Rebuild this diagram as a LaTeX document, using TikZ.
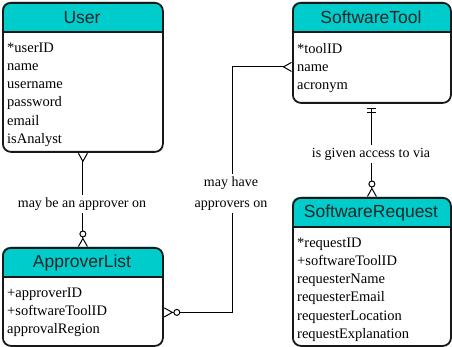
\documentclass[tikz,border=0pt]{standalone}
\usepackage{fontspec}
\setmainfont{Liberation Serif}
\newfontfamily\headfont{Liberation Sans}
\usetikzlibrary{arrows.meta}

\definecolor{hdrfill}{RGB}{0,204,204}
\definecolor{boxline}{RGB}{24,24,24}

\tikzstyle{entity}=[draw=boxline, line width=1.8pt, rounded corners=8pt, inner sep=0pt, anchor=north west]
\tikzstyle{enttitle}=[font=\headfont\fontsize{17.5}{20}\selectfont, text=black!85]
\tikzstyle{attrs}=[anchor=north west, align=left, inner sep=0pt, font=\fontsize{14.5}{18.1}\selectfont]
\tikzstyle{rel}=[draw, line width=1pt]
\tikzstyle{rellabel}=[fill=white, align=center, inner sep=3pt, font=\fontsize{14}{21}\selectfont]

\tikzset{
  crow/.tip={Straight Barb[reversed, length=8pt, width=9pt]},
  zerocrow/.tip={Circle[fill=white, length=7pt] Straight Barb[reversed, length=8pt, width=9pt]},
  oneone/.tip={Bar[width=9pt, sep=3pt] Bar[width=9pt, sep=4pt]}
}

% entity: name, left, top, width, height, title
\newcommand{\entitybox}[6]{%
  \fill[hdrfill, rounded corners=8pt] (#2,#3+30) -- (#2,#3) -- (#2+#4,#3) -- (#2+#4,#3+30);
  \draw[boxline, line width=1.4pt] (#2,#3+30) -- (#2+#4,#3+30);
  \node[entity, minimum width=#4pt, minimum height=#5pt] (#1) at (#2,#3) {};
  \node[enttitle] (#1-title) at (#2+#4/2,#3+15.5) {#6};
}

\begin{document}
\begin{tikzpicture}[x=1pt, y=-1pt]
  \useasboundingbox (0,0) rectangle (452,347);

  \entitybox{user}{2}{2}{160}{149}{User}
  \entitybox{tool}{292}{2}{158}{100}{SoftwareTool}
  \entitybox{appr}{2}{247}{160}{98}{ApproverList}
  \entitybox{req}{292}{197}{158}{148}{SoftwareRequest}

  \node[attrs] (user-attrs) at (7,43) {*userID\\name\\username\\password\\email\\isAnalyst};
  \node[attrs] (tool-attrs) at (297,43) {*toolID\\name\\acronym};
  \node[attrs] (appr-attrs) at (7,288) {+approverID\\+softwareToolID\\approvalRegion};
  \node[attrs] (req-attrs) at (297,238) {*requestID\\+softwareToolID\\requesterName\\requesterEmail\\requesterLocation\\requestExplanation};

  % relationships
  \path[rel, {crow}-{zerocrow}] (user) -- (appr);
  \path[rel, {zerocrow}-{crow}] ([yshift=-15.5pt]appr.east) -- ++(69,0) |- ([yshift=-14pt]tool.west);
  \path[rel, {oneone}-{zerocrow}] (tool) -- (req);

  \node[rellabel] (l1) at (82,204) {may be an approver on};
  \node[rellabel] (l2) at (231,193.5) {may have\\approvers on};
  \node[rellabel] (l3) at (371,154) {is given access to via};
\end{tikzpicture}
\end{document}
